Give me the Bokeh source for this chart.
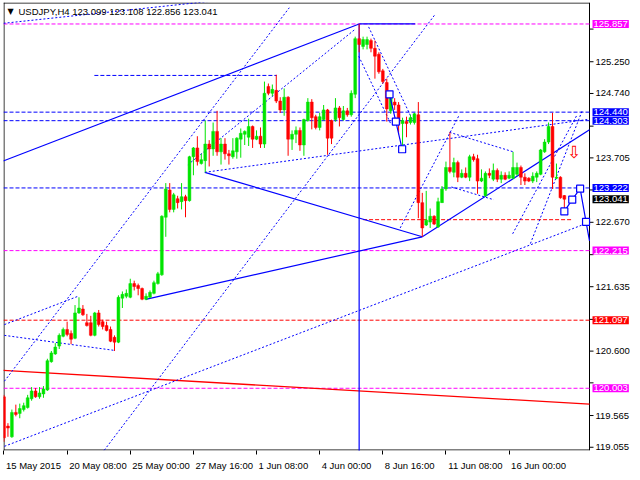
from bokeh.plotting import figure
from bokeh.models import Range1d, FixedTicker, LinearAxis, Label, ColumnDataSource
from bokeh.core.properties import value
from bokeh.embed import file_html
from bokeh.resources import INLINE

# ---------------- data (USDJPY H4) ----------------
opens = [119.865,119.395,119.223,119.615,119.599,119.661,119.693,119.834,119.960,119.865,
 119.912,119.975,120.430,120.555,120.681,120.838,120.948,120.885,120.806,121.214,
 121.277,121.057,121.057,120.853,121.214,121.073,121.010,120.948,120.822,120.744,
 121.450,121.481,121.465,121.685,121.653,121.606,121.434,121.465,121.528,121.685,
 121.826,122.751,123.190,122.877,123.049,123.002,123.081,123.018,123.724,123.865,
 123.614,123.661,123.927,123.849,124.131,123.802,123.927,123.771,123.724,123.802,
 124.006,124.084,124.037,124.210,124.006,124.053,123.927,124.853,124.743,124.790,
 124.618,124.476,124.680,124.006,124.084,124.147,123.912,124.304,124.602,124.367,
 124.194,124.320,124.476,124.304,124.320,124.508,124.320,124.461,124.398,124.727,
 125.621,125.496,125.527,125.590,125.465,125.370,125.104,124.916,124.461,124.602,
 124.555,124.257,124.288,124.273,124.273,124.398,122.986,122.626,122.673,122.767,
 122.594,122.986,123.206,123.551,123.473,123.629,123.394,123.457,123.394,123.724,
 123.692,123.332,123.096,123.457,123.363,123.504,123.363,123.426,123.379,123.379,
 123.441,123.551,123.394,123.379,123.332,123.394,123.441,123.802,123.959,124.210,
 123.379,123.394,123.099]
highs = [119.897,119.442,119.661,119.740,119.756,119.771,119.897,120.022,120.006,120.022,
 120.038,120.477,120.602,120.728,120.885,120.979,121.073,120.932,121.340,121.465,
 121.340,121.198,121.167,121.230,121.261,121.104,121.073,120.995,120.853,121.497,
 121.559,121.591,121.763,121.732,121.685,121.622,121.528,121.575,121.732,121.873,
 122.783,123.300,123.300,123.143,123.096,123.300,123.112,123.739,123.880,124.053,
 123.771,124.304,123.990,124.273,124.461,124.022,124.022,123.833,124.022,124.037,
 124.178,124.147,124.335,124.225,124.147,124.194,124.931,124.900,124.884,125.041,
 124.680,124.821,124.696,124.147,124.210,124.194,124.335,124.665,124.649,124.398,
 124.429,124.555,124.492,124.320,124.665,124.539,124.539,124.508,124.790,125.653,
 125.857,125.653,125.653,125.621,125.590,125.402,125.135,124.978,124.727,124.665,
 124.602,124.351,124.367,124.398,124.429,124.602,123.143,123.175,122.892,122.783,
 123.065,123.253,123.645,124.116,123.708,123.661,123.520,123.551,123.755,123.771,
 123.755,123.520,123.488,123.536,123.614,123.536,123.488,123.473,123.488,123.802,
 123.629,123.582,123.457,123.394,123.473,123.488,123.849,124.006,124.273,124.429,
 123.614,123.410,123.108]
lows = [119.144,119.223,119.207,119.552,119.521,119.630,119.677,119.803,119.850,119.834,
 119.850,119.960,120.414,120.540,120.634,120.822,120.838,120.712,120.791,121.198,
 121.167,120.995,120.838,120.838,120.995,120.948,120.916,120.744,120.602,120.728,
 121.293,121.450,121.450,121.575,121.497,121.418,121.418,121.450,121.512,121.669,
 121.810,122.437,122.830,122.830,122.892,122.877,122.751,123.002,123.426,123.582,
 123.598,123.473,123.567,123.739,123.739,123.598,123.677,123.598,123.692,123.692,
 123.708,123.912,123.896,123.865,123.990,123.865,123.865,124.712,124.696,124.586,
 124.429,124.382,123.739,123.833,123.943,123.818,123.739,124.288,124.163,124.163,
 124.147,124.304,123.755,123.927,124.288,124.210,124.304,124.367,124.367,124.665,
 125.402,125.449,125.449,125.402,124.978,125.057,124.900,124.288,124.414,124.476,
 124.084,123.880,124.037,124.241,124.241,122.736,122.437,122.610,122.579,122.626,
 122.579,122.986,123.175,123.457,123.394,123.316,123.379,123.379,123.332,123.645,
 123.128,123.316,123.081,123.379,123.332,123.316,123.300,123.347,123.363,123.363,
 123.410,123.269,123.269,123.316,123.300,123.316,123.426,123.786,123.927,123.206,
 123.363,123.049,122.856]
closes = [119.207,119.364,119.615,119.583,119.677,119.724,119.850,119.960,119.865,119.928,
 119.991,120.446,120.571,120.665,120.853,120.948,120.869,120.791,121.214,121.293,
 121.183,121.010,120.853,121.214,121.026,120.995,120.932,120.759,120.744,121.465,
 121.512,121.528,121.685,121.638,121.606,121.434,121.481,121.544,121.700,121.842,
 122.767,123.206,122.877,123.112,122.986,123.081,123.018,123.724,123.865,123.645,
 123.677,123.927,123.849,124.131,123.802,123.927,123.771,123.739,123.818,124.022,
 124.100,124.131,124.210,124.006,124.053,123.927,124.743,124.743,124.806,124.618,
 124.476,124.680,124.006,124.084,124.147,123.912,124.320,124.602,124.351,124.194,
 124.367,124.476,124.022,124.022,124.508,124.351,124.461,124.398,124.743,125.621,
 125.527,125.606,125.606,125.465,125.339,125.088,124.931,124.492,124.696,124.555,
 124.241,124.304,124.257,124.351,124.414,122.986,122.579,122.704,122.767,122.641,
 123.002,123.206,123.551,123.488,123.629,123.394,123.457,123.394,123.724,123.677,
 123.332,123.379,123.457,123.426,123.504,123.363,123.426,123.363,123.426,123.551,
 123.551,123.394,123.332,123.332,123.410,123.457,123.833,123.959,124.210,123.394,
 123.394,123.065,123.041]

date_ticks = [0, 16, 32, 48, 64, 80, 96, 112, 128]
date_labels = ["15 May 2015", "20 May 08:00", "25 May 00:00", "27 May 16:00", "1 Jun 08:00",
               "4 Jun 00:00", "8 Jun 16:00", "11 Jun 08:00", "16 Jun 00:00"]
price_ticks = [125.775, 125.250, 124.740, 124.215, 123.705, 123.190, 122.670,
               122.150, 121.635, 121.110, 120.600, 120.090, 119.565, 119.055]
covered_ticks = [125.775, 124.215, 123.190, 122.150, 121.110, 120.090]

# horizontal levels
magenta_levels = [125.857, 122.215, 120.003]
blue_levels = [124.440, 124.303, 123.222]
red_levels = [121.097]
bid_price = 123.041
title_text = "USDJPY,H4  123.099 123.108 122.856 123.041"

# trend lines: (bars, prices)
solid_lines = [
    ([-0.2, 90.0], [123.655, 125.857]),
    ([90.0, 104.2], [125.857, 125.857]),
    ([50.9, 106.0], [123.473, 122.437]),
    ([35.9, 106.0], [121.432, 122.437]),
    ([106.0, 150.0], [122.437, 124.223]),
    ([90.0, 90.0], [125.857, 118.9]),
]
forecast_a = ([97.7, 99.3, 100.9], [124.727, 124.288, 123.844])
forecast_b = ([142.0, 144.0, 146.0, 147.5, 149.5], [122.845, 123.034, 123.211, 122.678, 121.98])
dotted_lines = [
    ([-0.1, 52.4], [125.868, 126.222]),
    ([0.1, 72.3], [120.116, 126.118]),
    ([25.4, 109.1], [119.007, 125.998]),
    ([0.1, 146.5], [119.070, 122.626]),
    ([46.6, 89.1], [123.595, 125.778]),
    ([0.1, 27.8], [120.853, 120.613]),
    ([0.1, 18.75], [121.026, 121.481]),
    ([50.9, 148.4], [123.473, 124.327]),
    ([92.4, 103.6], [125.810, 124.304]),
    ([89.9, 98.1], [125.339, 124.241]),
    ([100.4, 115.4], [122.579, 124.398]),
    ([128.9, 145.1], [122.485, 124.382]),
    ([133.4, 146.6], [122.328, 124.476]),
    ([112.9, 129.1], [124.116, 123.802]),
    ([113.4, 124.1], [123.237, 123.033]),
]
blue_dash_segment = ([22.9, 69.1], [125.03, 125.03])
red_dash_segment = ([91.0, 144.0], [122.712, 122.712])
red_trend = ([-0.2, 148.5], [120.289, 119.748])
arrow_point = (144.5, 123.802)

# ---------------- figure ----------------
BLUE = "#0000ff"
MAG = "#ff00ff"
RED = "#ff0000"
GREEN = "#00e400"
FONT = "Liberation Sans"
FS = "9.5px"

X0, X1 = -0.125, 148.375          # chart area (bars)
Y0, Y1 = 119.003, 126.202         # price range
CW, FH = 586, 448                 # chart area size in px
SCALE_W = 42                      # price-scale strip on the right (inside the frame)
ppx = CW / (X1 - X0)
ppy = FH / (Y1 - Y0)
XE = X1 + SCALE_W / ppx

p = figure(frame_width=CW + SCALE_W, frame_height=FH,
           x_range=Range1d(X0, XE), y_range=Range1d(Y0, Y1),
           output_backend="svg", toolbar_location=None,
           x_axis_location=None, y_axis_location=None,
           min_border_left=3, min_border_top=2, min_border_right=0, min_border_bottom=0)
p.background_fill_color = "white"
p.border_fill_color = "white"
p.outline_line_color = None
for g in p.grid:
    g.visible = False

def clip(xs, ys, xmax=X1):
    ox, oy = [xs[0]], [ys[0]]
    for i in range(1, len(xs)):
        if xs[i] <= xmax:
            ox.append(xs[i]); oy.append(ys[i])
        else:
            if xs[i - 1] < xmax:
                t = (xmax - xs[i - 1]) / (xs[i] - xs[i - 1])
                ox.append(xmax); oy.append(ys[i - 1] + t * (ys[i] - ys[i - 1]))
            break
    return ox, oy

# date axis: labels start just right of their tick (MT4 style)
CHAR_W = {" ": 278, ":": 278, "M": 833, "a": 556, "y": 500, "J": 500, "u": 556, "n": 556}
def text_px(s, size=9.5):
    return sum(CHAR_W.get(ch, 556) for ch in s) * size / 1000.0
label_pos = [t + (2 + text_px(s) / 2) / ppx for t, s in zip(date_ticks, date_labels)]
xaxis = LinearAxis(ticker=FixedTicker(ticks=label_pos, minor_ticks=date_ticks),
                   major_label_overrides={t: s for t, s in zip(label_pos, date_labels)},
                   axis_line_color=None, major_tick_out=0, major_tick_in=0,
                   minor_tick_out=4, minor_tick_in=0, minor_tick_line_color="black",
                   major_label_standoff=5,
                   major_label_text_font=FONT, major_label_text_font_size=FS,
                   major_label_text_color="black")
p.add_layout(xaxis, "below")

# chart border (left, top, bottom, right = price scale line)
hx, hy = 0.5 / ppx, 0.5 / ppy
p.line([X0 + hx, X0 + hx], [Y0, Y1], line_color="black", line_width=1)
p.line([X0, X1], [Y1 - hy, Y1 - hy], line_color="black", line_width=1)
p.line([X0, X1], [Y0 + hy, Y0 + hy], line_color="black", line_width=1)
p.line([X1, X1], [Y0, Y1], line_color="black", line_width=1)

# price scale ticks and labels (through the y scale)
shown = [t for t in price_ticks if t not in covered_ticks]
p.segment(x0=[X1] * len(price_ticks), y0=price_ticks, x1=[X1 + 4 / ppx] * len(price_ticks),
          y1=price_ticks, line_color="black", line_width=1)
p.text(x=[X1 + 6 / ppx] * len(shown), y=shown, text=[f"{t:.3f}" for t in shown],
       text_font=value(FONT), text_font_size=value(FS), text_color="black",
       text_baseline="middle", text_align="left")

# levels
for levels, col in ((magenta_levels, MAG), (blue_levels, BLUE), (red_levels, RED)):
    p.segment(x0=[X0] * len(levels), y0=levels, x1=[X1] * len(levels), y1=levels,
              line_color=col, line_dash="4 2", line_width=1)

xs_, ys_ = clip(*red_trend)
p.line(xs_, ys_, line_color=RED, line_width=1.3)
p.line(blue_dash_segment[0], blue_dash_segment[1], line_color=BLUE, line_dash="4 2")
p.line(red_dash_segment[0], red_dash_segment[1], line_color=RED, line_dash="4 2")

for xs, ys in dotted_lines:
    xs_, ys_ = clip(xs, ys)
    p.line(xs_, ys_, line_color=BLUE, line_dash="2 2", line_width=1)
for xs, ys in solid_lines:
    xs_, ys_ = clip(xs, ys)
    p.line(xs_, ys_, line_color=BLUE, line_width=1.2)

# candles
n = len(opens)
xs = list(range(n))
colors = [GREEN if c >= o else RED for o, c in zip(opens, closes)]
tops = [max(o, c) for o, c in zip(opens, closes)]
bots = [min(o, c) for o, c in zip(opens, closes)]
hi = [max(h, t) for h, t in zip(highs, tops)]
lo = [min(l, b) for l, b in zip(lows, bots)]
src = ColumnDataSource(dict(x=xs, top=tops, bottom=bots, high=hi, low=lo, color=colors))
p.segment(x0="x", y0="low", x1="x", y1="high", line_color="color", line_width=1, source=src)
p.vbar(x="x", width=0.72, top="top", bottom="bottom", fill_color="color", line_color="color",
       line_width=0.5, source=src)

# forecast paths
p.line(forecast_a[0], forecast_a[1], line_color=BLUE, line_width=1.2)
p.scatter(forecast_a[0], forecast_a[1], marker="square", size=7, fill_color="white",
          line_color=BLUE, line_width=1.2)
fx, fy = clip(*forecast_b)
p.line(fx, fy, line_color=BLUE, line_width=1.2)
p.scatter(forecast_b[0][:4], forecast_b[1][:4], marker="square", size=7, fill_color="white",
          line_color=BLUE, line_width=1.2)

# arrow glyph
p.add_layout(Label(x=arrow_point[0], y=arrow_point[1], text="\u21e9", text_color=RED,
                   text_font="DejaVu Sans", text_font_size="17px",
                   text_align="center", text_baseline="middle"))

# title
p.add_layout(Label(x=X0 + 4 / ppx, y=Y1 - 9 / ppy, text="\u25bc", text_color="black",
                   text_font="DejaVu Sans", text_font_size="8px", text_baseline="middle"))
p.add_layout(Label(x=X0 + 15 / ppx, y=Y1 - 9 / ppy, text=title_text, text_color="black",
                   text_font=FONT, text_font_size=FS, text_baseline="middle"))

# price boxes on the price scale
boxes = [(magenta_levels[0], MAG), (blue_levels[0], BLUE), (blue_levels[1], BLUE),
         (blue_levels[2], BLUE), (bid_price, "black"), (magenta_levels[1], MAG),
         (red_levels[0], RED), (magenta_levels[2], MAG)]
for lv, col in boxes:
    p.add_layout(Label(x=X1 + 3 / ppx, y=lv, text=f"{lv:.3f}", text_color="white",
                       text_font=FONT, text_font_size=FS, text_baseline="middle",
                       text_align="left", background_fill_color=col, padding=1))

open("out.html", "w").write(file_html(p, INLINE))
